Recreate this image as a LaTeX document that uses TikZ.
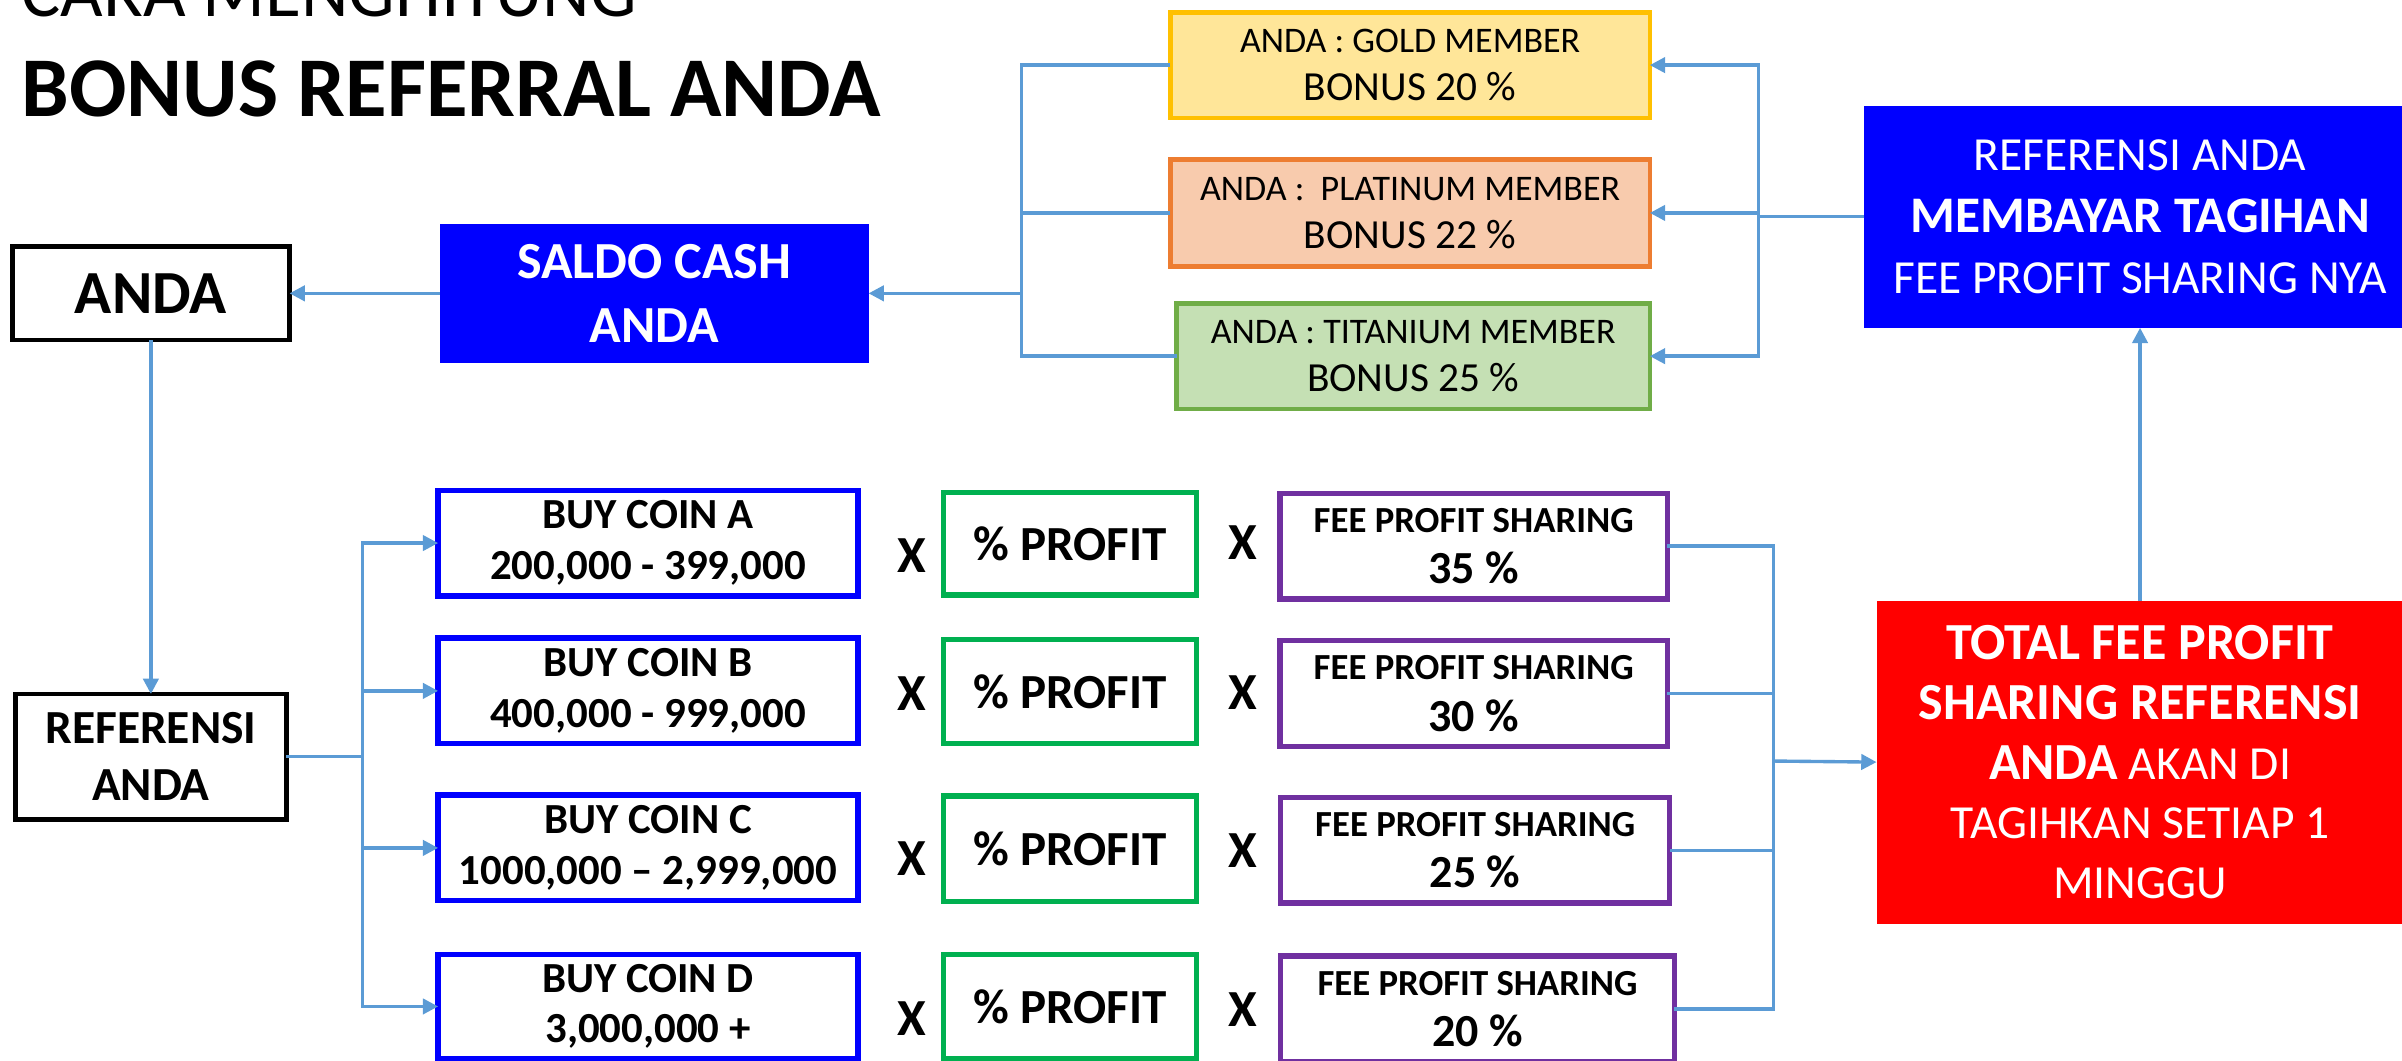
\documentclass[tikz,border=0pt]{standalone}
\usepackage{fontspec}
\setmainfont{Carlito}
\usetikzlibrary{arrows.meta}
\definecolor{conn}{HTML}{5B9BD5}
\definecolor{pureblue}{HTML}{0000FF}
\definecolor{purered}{HTML}{FF0000}
\definecolor{goldfill}{HTML}{FFE699}
\definecolor{goldline}{HTML}{FFC000}
\definecolor{platfill}{HTML}{F8CBAD}
\definecolor{platline}{HTML}{ED7D31}
\definecolor{titfill}{HTML}{C5E0B4}
\definecolor{titline}{HTML}{70AD47}
\definecolor{profline}{HTML}{00B050}
\definecolor{feeline}{HTML}{7030A0}
\newcommand\myfs[2]{\fontsize{#1}{#2}\selectfont}
\begin{document}
\begin{tikzpicture}[x=1pt,y=-1pt,
  box/.style={rectangle, inner sep=0pt, outer sep=0pt, align=center, text=black},
  blackbox/.style={box, draw=black, line width=3pt},
  coinbox/.style={box, draw=pureblue, line width=3.5pt, minimum width=274pt, minimum height=69pt, font=\myfs{28}{33}\bfseries},
  profbox/.style={box, draw=profline, line width=3.5pt, minimum width=165pt, minimum height=68pt, font=\myfs{32}{38}\bfseries},
  feebox/.style={box, draw=feeline, line width=3.5pt, minimum width=253pt, minimum height=69pt, font=\myfs{30}{33.5}\bfseries},
  memberbox/.style={box, line width=3pt, minimum width=313pt, minimum height=69pt, font=\myfs{23.5}{31.7}},
  xmark/.style={font=\myfs{34}{40}\bfseries, inner sep=0pt},
  conline/.style={draw=conn, line width=2.2pt},
  arr/.style={conline, -{Triangle[length=10pt,width=10pt]}},
]
\useasboundingbox (0,0) rectangle (1568,692);
\clip (0,0) rectangle (1568,692);

% titles
\node[anchor=base west, inner sep=0pt, font=\myfs{48}{56}] (t1) at (14,11) {CARA MENGHITUNG};
\node[anchor=base west, inner sep=0pt, font=\myfs{55.5}{64}\bfseries] (t2) at (14,76) {BONUS REFERRAL ANDA};

% top part
\node[blackbox, minimum width=181pt, minimum height=61pt, font=\myfs{40}{48}\bfseries] (anda) at (98.5,191.5) {ANDA};
\node[box, fill=pureblue, text=white, minimum width=280pt, minimum height=91pt, font=\myfs{34}{41.5}\bfseries] (saldo) at (427,191.5) {SALDO CASH\\ANDA};

\node[memberbox, fill=goldfill, draw=goldline] (gold) at (920.5,42.5) {ANDA : GOLD MEMBER\\{\myfs{27}{31.7}BONUS 20 \%}};
\node[memberbox, fill=platfill, draw=platline, minimum height=70pt] (plat) at (920.5,139) {ANDA :\ \ PLATINUM MEMBER\\{\myfs{27}{31.7}BONUS 22 \%}};
\node[memberbox, fill=titfill, draw=titline, minimum width=309pt] (tit) at (922.5,232.5) {ANDA : TITANIUM MEMBER\\{\myfs{27}{31.7}BONUS 25 \%}};

\node[box, fill=pureblue, text=white, minimum width=360pt, minimum height=145pt, font=\myfs{31}{40}] (refblue) at (1397,141.5) {REFERENSI ANDA\\{\bfseries\myfs{33.5}{40}MEMBAYAR TAGIHAN}\\FEE PROFIT SHARING NYA};

\node[box, fill=purered, text=white, minimum width=344pt, minimum height=211pt, font=\myfs{31}{39}] (red) at (1397,497.5) {{\bfseries\myfs{34}{39}TOTAL FEE PROFIT}\\{\bfseries\myfs{34}{39}SHARING REFERENSI}\\{\bfseries\myfs{34}{39}ANDA} AKAN DI\\TAGIHKAN SETIAP 1\\MINGGU};

% bottom part
\node[blackbox, minimum width=177pt, minimum height=82pt, font=\myfs{31}{37}\bfseries] (refanda) at (98.5,494) {REFERENSI\\ANDA};

\node[coinbox] (coinA) at (423,354.5) {BUY COIN A\\200,000 - 399,000};
\node[coinbox] (coinB) at (423,451) {BUY COIN B\\400,000 - 999,000};
\node[coinbox] (coinC) at (423,553.5) {BUY COIN C\\1000,000 – 2,999,000};
\node[coinbox, minimum height=68pt] (coinD) at (423,657) {BUY COIN D\\3,000,000 +};

\node[xmark] (xA1) at (595,362.7) {X};
\node[xmark] (xB1) at (595,453) {X};
\node[xmark] (xC1) at (595,560.5) {X};
\node[xmark] (xD1) at (595,665) {X};

\node[profbox, minimum height=67pt] (profA) at (698.5,355) {\% PROFIT};
\node[profbox] (profB) at (698.5,451.3) {\% PROFIT};
\node[profbox, minimum height=69pt] (profC) at (698.5,554) {\% PROFIT};
\node[profbox] (profD) at (698.5,657) {\% PROFIT};

\node[xmark] (xA2) at (811,354.5) {X};
\node[xmark] (xB2) at (811,452) {X};
\node[xmark] (xC2) at (811,555) {X};
\node[xmark] (xD2) at (811,659) {X};

\node[feebox] (feeA) at (962,356.5) {{\myfs{24}{33.5}FEE PROFIT SHARING}\\35 \%};
\node[feebox] (feeB) at (962,452.8) {{\myfs{24}{33.5}FEE PROFIT SHARING}\\30 \%};
\node[feebox, minimum width=254pt] (feeC) at (963,555) {{\myfs{24}{33.5}FEE PROFIT SHARING}\\25 \%};
\node[feebox, minimum width=257pt] (feeD) at (964.5,658.6) {{\myfs{24}{33.5}FEE PROFIT SHARING}\\20 \%};

% connectors
\coordinate (lbus) at (667,191.5);
\coordinate (rbus) at (1148,141.5);
\coordinate (cbus) at (236.5,494);
\coordinate (fbus) at (1157.6,496.8);

\draw[arr] (saldo.west) -- (anda.east);
\draw[conline] (gold.west) -| (lbus);
\draw[conline] (plat.west) -| (lbus);
\draw[conline] (tit.west) -| (lbus);
\draw[arr] (lbus) -- (saldo.east);

\draw[conline] (refblue.west) -- (rbus);
\draw[arr] (rbus) |- (gold.east);
\draw[arr] (rbus) |- (plat.east);
\draw[arr] (rbus) |- (tit.east);

\draw[arr] (red.north) -- (refblue.south);

\draw[arr] (anda.south) -- (refanda.north);
\draw[conline] (refanda.east) -- (cbus);
\draw[arr] (cbus) |- (coinA.west);
\draw[arr] (cbus) |- (coinB.west);
\draw[arr] (cbus) |- (coinC.west);
\draw[arr] (cbus) |- (coinD.west);

\draw[conline] (feeA.east) -| (fbus);
\draw[conline] (feeB.east) -| (fbus);
\draw[conline] (feeC.east) -| (fbus);
\draw[conline] (feeD.east) -| (fbus);
\draw[arr] (fbus) -- (red.west);
\end{tikzpicture}
\end{document}
